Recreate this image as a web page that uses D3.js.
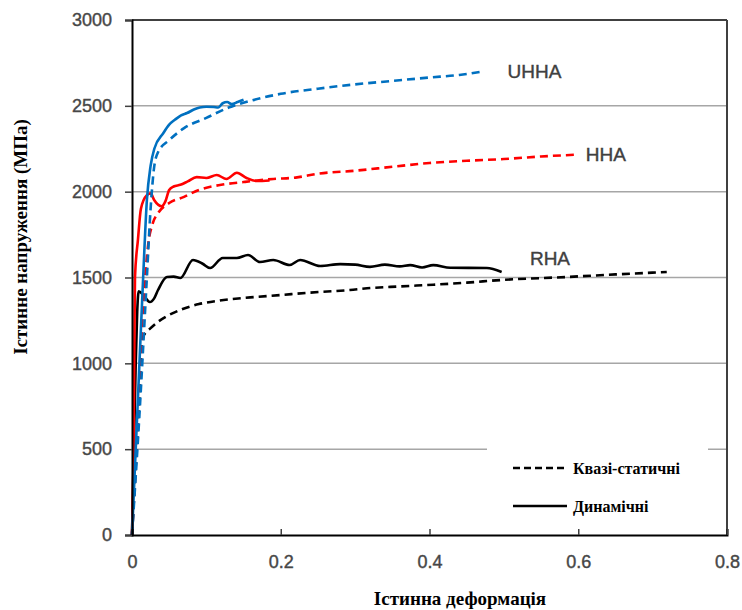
<!DOCTYPE html>
<html>
<head>
<meta charset="utf-8">
<script src="https://cdn.jsdelivr.net/npm/d3@7"></script>
<style>
  body { margin: 0; background: #fff; }
  svg { display: block; }
  .tick text { font-family: "Liberation Sans", Arial, sans-serif; font-size: 18px; fill: #474747; stroke: #474747; stroke-width: 0.4px; }
</style>
</head>
<body>
<svg id="chart" width="742" height="610"></svg>
<script>
// quasi-static curves (dashed) and dynamic curves (solid), [strain, stress MPa]
const uhhaQuasi = [[0,0],[0.01,700],[0.02,1500],[0.025,1900],[0.03,2150],[0.035,2230],[0.05,2300],[0.07,2370],[0.1,2430],[0.13,2490],[0.16,2530],[0.2,2570],[0.25,2600],[0.3,2625],[0.35,2645],[0.4,2665],[0.44,2680],[0.472,2700]];
const uhhaDyn = [[0,0],[0.005,500],[0.01,1000],[0.015,1500],[0.02,1950],[0.025,2150],[0.03,2250],[0.042,2340],[0.05,2390],[0.058,2420],[0.066,2445],[0.074,2458],[0.084,2480],[0.091,2490],[0.1,2495],[0.11,2493],[0.116,2490],[0.122,2515],[0.128,2522],[0.134,2510],[0.142,2522],[0.15,2535]];
const hhaQuasi = [[0,0],[0.006,500],[0.011,1000],[0.016,1400],[0.022,1700],[0.028,1817],[0.035,1875],[0.05,1934],[0.07,1970],[0.09,2010],[0.12,2040],[0.15,2056],[0.19,2074],[0.22,2082],[0.25,2105],[0.3,2122],[0.35,2145],[0.4,2167],[0.45,2180],[0.5,2190],[0.55,2205],[0.596,2215]];
const hhaDyn = [[0,0],[0.002,500],[0.003,1000],[0.004,1500],[0.008,1720],[0.012,1900],[0.02,1980],[0.025,1990],[0.03,1950],[0.04,1915],[0.045,1945],[0.05,2010],[0.056,2030],[0.065,2040],[0.075,2060],[0.087,2085],[0.1,2080],[0.114,2097],[0.127,2074],[0.141,2110],[0.154,2080],[0.168,2062],[0.185,2065]];
const rhaQuasi = [[0,0],[0.005,400],[0.01,800],[0.013,1100],[0.015,1155],[0.025,1205],[0.035,1242],[0.047,1275],[0.065,1311],[0.09,1345],[0.118,1366],[0.159,1384],[0.2,1398],[0.24,1412],[0.293,1427],[0.316,1437],[0.36,1448],[0.405,1458],[0.45,1470],[0.495,1485],[0.585,1503],[0.65,1518],[0.719,1532]];
const rhaDyn = [[0,0],[0.003,600],[0.005,1000],[0.007,1300],[0.009,1420],[0.015,1400],[0.024,1357],[0.03,1380],[0.035,1427],[0.047,1503],[0.056,1505],[0.065,1497],[0.082,1602],[0.095,1580],[0.105,1555],[0.122,1614],[0.141,1614],[0.156,1631],[0.172,1590],[0.19,1602],[0.212,1573],[0.226,1602],[0.253,1567],[0.28,1578],[0.3,1575],[0.32,1562],[0.34,1575],[0.36,1565],[0.374,1572],[0.39,1558],[0.405,1572],[0.428,1557],[0.477,1555],[0.497,1532]];

const series = [
  { data: rhaQuasi, color: "#000000", dashed: true },
  { data: rhaDyn, color: "#000000", dashed: false },
  { data: hhaQuasi, color: "#ff0000", dashed: true },
  { data: hhaDyn, color: "#ff0000", dashed: false },
  { data: uhhaQuasi, color: "#0070c0", dashed: true },
  { data: uhhaDyn, color: "#0070c0", dashed: false }
];
const seriesLabels = [
  { text: "UHHA", at: [0.505, 2700] },
  { text: "HHA", at: [0.61, 2220] },
  { text: "RHA", at: [0.535, 1610] }
];
const xTicks = [0, 0.2, 0.4, 0.6, 0.8];
const yTicks = [0, 500, 1000, 1500, 2000, 2500, 3000];

const margin = { left: 132, top: 20, right: 15, bottom: 75 };
const width = 742 - margin.left - margin.right;
const height = 610 - margin.top - margin.bottom;

const svg = d3.select("#chart");
const g = svg.append("g").attr("transform", `translate(${margin.left},${margin.top})`);

const x = d3.scaleLinear().domain([0, 0.8]).range([0, width]);
const y = d3.scaleLinear().domain([0, 3000]).range([height, 0]);

// gridlines
g.append("g")
  .selectAll("line")
  .data(yTicks.filter(d => d > 0 && d < 3000))
  .enter()
  .append("line")
  .attr("x1", 0)
  .attr("x2", width)
  .attr("y1", d => y(d))
  .attr("y2", d => y(d))
  .style("stroke", "#a6a6a6")
  .style("stroke-width", 1.5);

// frame top and right
g.append("line").attr("x1", 0).attr("x2", width).attr("y1", 0).attr("y2", 0)
  .style("stroke", "#404040").style("stroke-width", 2);
g.append("line").attr("x1", width).attr("x2", width).attr("y1", 0).attr("y2", height)
  .style("stroke", "#404040").style("stroke-width", 2);

// legend background hides gridlines
g.append("rect")
  .attr("x", 355).attr("y", 418)
  .attr("width", 221).attr("height", 94)
  .style("fill", "#fff");

const line = d3.line()
  .x(d => x(d[0]))
  .y(d => y(d[1]))
  .curve(d3.curveMonotoneX);

g.append("g")
  .selectAll("path")
  .data(series)
  .enter()
  .append("path")
  .attr("d", d => line(d.data))
  .style("fill", "none")
  .style("stroke", d => d.color)
  .style("stroke-width", 2.6)
  .style("stroke-linejoin", "round")
  .style("stroke-dasharray", d => d.dashed ? "8,5" : null);

// axes
const xAxis = g.append("g")
  .attr("transform", `translate(0,${height})`)
  .call(d3.axisBottom(x).tickValues(xTicks).tickFormat(d => d === 0 ? "0" : d3.format(".1f")(d)).tickSize(-6).tickPadding(20));
xAxis.select(".domain").style("stroke", "#000").style("stroke-width", 2);
xAxis.selectAll(".tick line").style("stroke", "#404040").style("stroke-width", 1.5);

const yAxis = g.append("g")
  .call(d3.axisLeft(y).tickValues(yTicks).tickFormat(d3.format("d")).tickSize(7).tickPadding(13));
yAxis.select(".domain").style("stroke", "#000").style("stroke-width", 2);
yAxis.selectAll(".tick line").style("stroke", "#404040").style("stroke-width", 1.5);

// series labels
g.append("g")
  .selectAll("text")
  .data(seriesLabels)
  .enter()
  .append("text")
  .attr("x", d => x(d.at[0]))
  .attr("y", d => y(d.at[1]))
  .attr("dy", "0.35em")
  .style("font-family", "Liberation Sans, Arial, sans-serif")
  .style("font-size", "19px")
  .style("fill", "#404040")
  .style("stroke", "#404040")
  .style("stroke-width", 0.4)
  .text(d => d.text);

// legend
const legend = g.append("g").attr("transform", "translate(381,448)");
const legendItems = [
  { text: "Квазі-статичні", dashed: true },
  { text: "Динамічні", dashed: false }
];
legendItems.forEach((item, i) => {
  const row = legend.append("g").attr("transform", `translate(0,${i * 38})`);
  row.append("line")
    .attr("x1", 0).attr("x2", 54)
    .style("stroke", "#000")
    .style("stroke-width", 2.6)
    .style("stroke-dasharray", item.dashed ? "7,4" : null);
  row.append("text")
    .attr("x", 60)
    .attr("dy", "0.35em")
    .style("font-family", "Liberation Serif, 'Times New Roman', serif")
    .style("font-weight", "bold")
    .style("font-size", "16px")
    .text(item.text);
});

// axis titles
svg.append("text")
  .attr("x", 460)
  .attr("y", 605)
  .attr("text-anchor", "middle")
  .style("font-family", "Liberation Serif, 'Times New Roman', serif")
  .style("font-weight", "bold")
  .style("font-size", "19px")
  .text("Істинна деформація");

svg.append("text")
  .attr("transform", "translate(27,237) rotate(-90)")
  .attr("text-anchor", "middle")
  .style("font-family", "Liberation Serif, 'Times New Roman', serif")
  .style("font-weight", "bold")
  .style("font-size", "19px")
  .text("Істинне напруження (МПа)");
</script>
</body>
</html>
